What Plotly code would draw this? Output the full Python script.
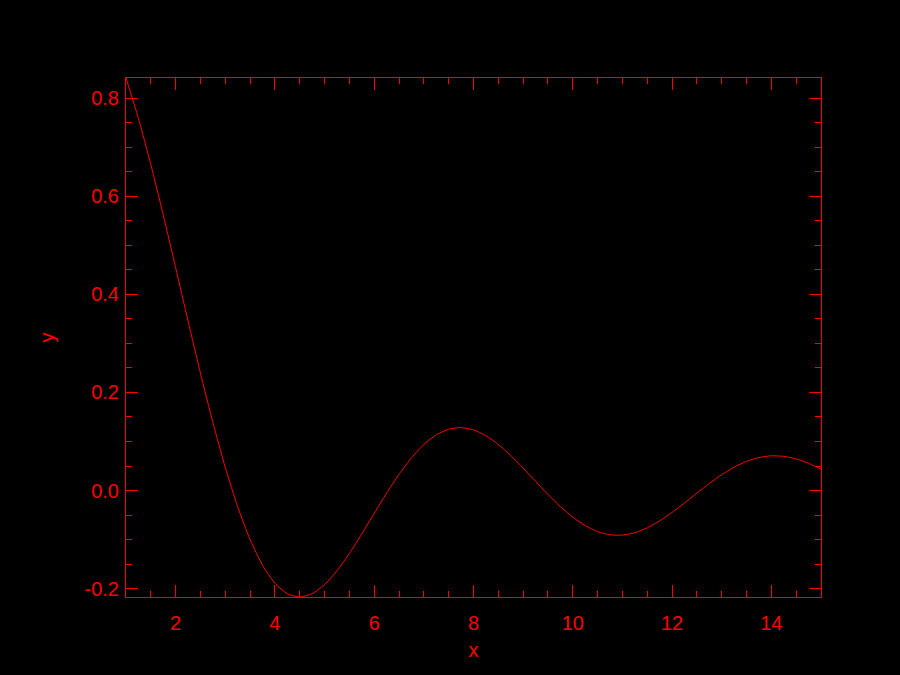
import plotly.graph_objects as go

x_vals = [1.0, 1.25, 1.5, 1.75, 2.0, 2.25, 2.5, 2.75, 3.0, 3.25, 3.5, 3.75, 4.0, 4.25, 4.5, 4.75,
          5.0, 5.25, 5.5, 5.75, 6.0, 6.25, 6.5, 6.75, 7.0, 7.25, 7.5, 7.75, 8.0, 8.25, 8.5, 8.75,
          9.0, 9.25, 9.5, 9.75, 10.0, 10.25, 10.5, 10.75, 11.0, 11.25, 11.5, 11.75, 12.0, 12.25,
          12.5, 12.75, 13.0, 13.25, 13.5, 13.75, 14.0, 14.25, 14.5, 14.75, 15.0]
y_vals = [0.8415, 0.7592, 0.6650, 0.5623, 0.4546, 0.3458, 0.2394, 0.1388, 0.0470, -0.0333,
          -0.1002, -0.1524, -0.1892, -0.2106, -0.2172, -0.2104, -0.1918, -0.1636, -0.1283,
          -0.0884, -0.0466, -0.0053, 0.0331, 0.0667, 0.0939, 0.1136, 0.1251, 0.1283, 0.1237,
          0.1118, 0.0939, 0.0714, 0.0458, 0.0188, -0.0079, -0.0328, -0.0544, -0.0715, -0.0838,
          -0.0904, -0.0909, -0.0861, -0.0761, -0.0620, -0.0447, -0.0255, -0.0053, 0.0143,
          0.0323, 0.0477, 0.0595, 0.0673, 0.0708, 0.0697, 0.0645, 0.0555, 0.0434]

x_ticks = [2, 4, 6, 8, 10, 12, 14]
x_ticktext = ["2", "4", "6", "8", "10", "12", "14"]
y_ticks = [-0.2, 0.0, 0.2, 0.4, 0.6, 0.8]
y_ticktext = ["-0.2", "0.0", "0.2", "0.4", "0.6", "0.8"]

RED = "#ff0000"
FONT = "Liberation Sans, Arial, sans-serif"

fig = go.Figure()
fig.add_trace(go.Scatter(x=x_vals, y=y_vals, mode="lines",
                         line=dict(color=RED, width=1, shape="spline", smoothing=0.6),
                         showlegend=False, hoverinfo="skip"))

axis_common = dict(
    showline=True, linecolor=RED, linewidth=1, mirror="ticks",
    ticks="inside", ticklen=12, tickwidth=1, tickcolor=RED,
    showgrid=False, zeroline=False,
    tickfont=dict(family=FONT, size=20, color=RED),
)

fig.update_xaxes(range=[1, 15], tickvals=x_ticks, ticktext=x_ticktext, ticklabelstandoff=8,
                 minor=dict(dtick=0.5, tick0=1, ticks="inside", ticklen=6, tickcolor=RED, tickwidth=1, showgrid=False),
                 title=dict(text="x", font=dict(family=FONT, size=20, color=RED), standoff=9),
                 **axis_common)
fig.update_yaxes(range=[-0.2172, 0.8415], tickvals=y_ticks, ticktext=y_ticktext, ticklabelstandoff=2,
                 minor=dict(dtick=0.05, tick0=0, ticks="inside", ticklen=6, tickcolor=RED, tickwidth=1, showgrid=False),
                 title=dict(text="y", font=dict(family=FONT, size=20, color=RED), standoff=24),
                 **axis_common)

fig.update_layout(
    width=900, height=675,
    paper_bgcolor="black", plot_bgcolor="black",
    margin=dict(l=126, r=79, t=78, b=78),
    font=dict(family=FONT, color=RED),
)

fig.write_html("out.html", config={"displayModeBar": False},
               post_script="document.body.style.margin='0';document.body.style.background='black';")
